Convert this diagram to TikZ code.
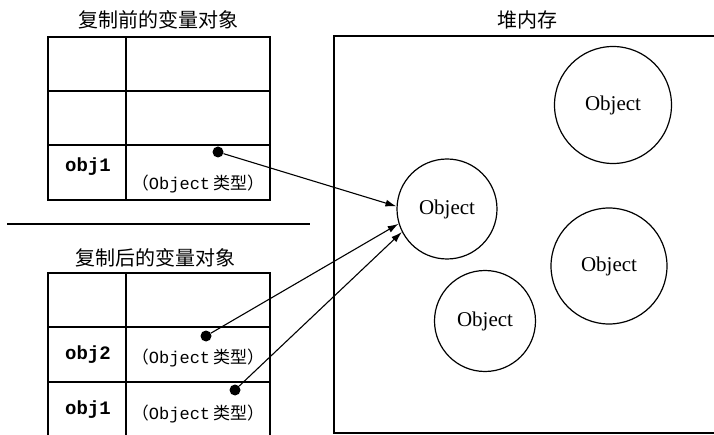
\documentclass[tikz,border=0pt]{standalone}
\usepackage{fontspec}
\setmainfont{Liberation Serif}
\setmonofont{Liberation Mono}
\newfontfamily\cjk{Noto Sans CJK SC}
\usetikzlibrary{arrows.meta}

\newcommand{\objtype}{{\cjk （}Object{\cjk\,类型）}}

\begin{document}
\begin{tikzpicture}[x=1pt, y=-1pt]
    \tikzstyle{cell} = [line width=1.4pt]
    \tikzstyle{title} = [font=\cjk\fontsize{20}{20}\selectfont]
    \tikzstyle{varname} = [font=\ttfamily\bfseries\fontsize{19}{19}\selectfont]
    \tikzstyle{vartype} = [font=\ttfamily\fontsize{17}{17}\selectfont, inner sep=0pt]
    \tikzstyle{ref} = [circle, fill=black, inner sep=0pt, minimum size=11pt]
    \tikzstyle{heapobj} = [circle, draw, line width=1.2pt, inner sep=0pt, font=\fontsize{21}{21}\selectfont]
    \tikzstyle{pointer} = [line width=1.1pt, -{Latex[length=11pt, width=7pt]}]

    \useasboundingbox (0,0) rectangle (714,435);

    % Before copy
    \node[title] (t1) at (158,20) {复制前的变量对象};
    \draw[cell] (48,37) rectangle (270,200);
    \draw[cell] (126,37) -- (126,200);
    \foreach \y in {91,145} \draw[cell] (48,\y) -- (270,\y);
    \node[varname] (n1) at (88,167) {obj1};
    \node[vartype] (v1) at (198,184) {\objtype};
    \node[ref] (r1) at (218,152) {};

    % Separator
    \draw[line width=2pt] (7,224) -- (310,224);

    % After copy
    \node[title] (t2) at (155,258) {复制后的变量对象};
    \draw[cell] (48,435) -- (48,273) -- (270,273) -- (270,435);
    \draw[cell] (126,273) -- (126,435);
    \foreach \y in {327,382} \draw[cell] (48,\y) -- (270,\y);
    \node[varname] (n2) at (88,355) {obj2};
    \node[vartype] (v2) at (198,358) {\objtype};
    \node[ref] (r2) at (206,336) {};
    \node[varname] (n3) at (88,410) {obj1};
    \node[vartype] (v3) at (198,414) {\objtype};
    \node[ref] (r3) at (235,390) {};

    % Heap
    \node[title] (t3) at (527,20) {堆内存};
    \draw[cell] (714,36) -- (334,36) -- (334,433) -- (714,433);
    \node[heapobj, minimum size=100pt] (o1) at (447,209) {Object};
    \node[heapobj, minimum size=117pt] (o2) at (613,105) {Object};
    \node[heapobj, minimum size=116pt] (o3) at (609,266) {Object};
    \node[heapobj, minimum size=101pt] (o4) at (485,321) {Object};

    % References
    \draw[pointer] (r1) -- (o1.177);
    \draw[pointer] (r2) -- (o1.197);
    \draw[pointer] (r3) -- (o1.207);

\end{tikzpicture}
\end{document}
